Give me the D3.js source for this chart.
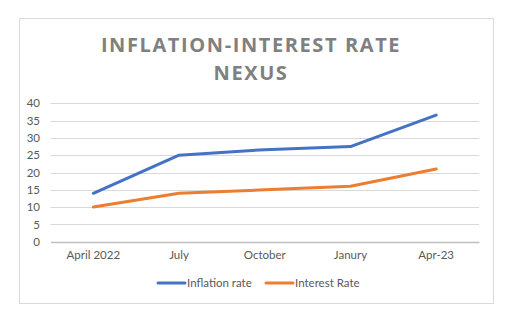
<!DOCTYPE html>
<html><head><meta charset="utf-8">
<script src="https://cdn.jsdelivr.net/npm/d3@7"></script>
<style>body{margin:0;background:#fff}svg{display:block}</style>
</head><body>
<script>
const categories = ["April 2022","July","October","Janury","Apr-23"];
const inflation = [14, 25, 26.6, 27.5, 36.6];
const interest = [10, 14, 15, 16, 21];
const yTicks = [0,5,10,15,20,25,30,35,40];
const seriesNames = ["Inflation rate","Interest Rate"];
const colors = ["#4472C4","#ED7D31"];

const W=526,H=328;
const svg=d3.select("body").append("svg").attr("width",W).attr("height",H);
const font="Lato, 'Open Sans', sans-serif";
svg.append("rect").attr("x",19.5).attr("y",18.5).attr("width",474).attr("height",285)
  .attr("fill","#fff").attr("stroke","#d9d9d9").attr("stroke-width",1);

const title=svg.append("text").attr("text-anchor","middle").attr("fill","#808080")
  .attr("font-family","'Open Sans', sans-serif").attr("font-weight","bold").attr("font-size",20)
  .attr("letter-spacing","1.6px");
title.append("tspan").attr("x",251).attr("y",52).text("INFLATION-INTEREST RATE");
title.append("tspan").attr("x",251).attr("y",80).text("NEXUS");

const x=d3.scaleBand().domain(categories).range([50.5,479]);
const y=d3.scaleLinear().domain([0,40]).range([241.7,103.3]);

const g=svg.append("g");
g.selectAll("line.grid").data(yTicks.slice(1)).join("line")
  .attr("x1",50.5).attr("x2",479).attr("y1",d=>Math.round(y(d))+0.5).attr("y2",d=>Math.round(y(d))+0.5)
  .attr("stroke","#d9d9d9").attr("stroke-width",1);

const ya=svg.append("g").attr("transform","translate(50,0)")
  .call(d3.axisLeft(y).tickValues(yTicks).tickSize(0).tickPadding(10));
ya.select(".domain").remove();
ya.selectAll("text").attr("font-family",font).attr("font-size",11.5).attr("fill","#595959");

const xa=svg.append("g").attr("transform","translate(0,242)")
  .call(d3.axisBottom(x).tickSize(0).tickPadding(9));
xa.select(".domain").attr("stroke","#bfbfbf").attr("stroke-width",1.5);
xa.selectAll("text").attr("font-family",font).attr("font-size",11.5).attr("fill","#595959");

const line=d3.line().x((d,i)=>x(categories[i])+x.bandwidth()/2).y(d=>y(d));
[inflation,interest].forEach((s,i)=>{
  svg.append("path").datum(s).attr("d",line).attr("fill","none")
    .attr("stroke",colors[i]).attr("stroke-width",3).attr("stroke-linecap","round").attr("stroke-linejoin","round");
});

const legX=[158,266];
seriesNames.forEach((n,i)=>{
  svg.append("line").attr("x1",legX[i]).attr("x2",legX[i]+27).attr("y1",283).attr("y2",283)
    .attr("stroke",colors[i]).attr("stroke-width",3).attr("stroke-linecap","round");
  svg.append("text").attr("x",legX[i]+29).attr("y",287).text(n)
    .attr("font-family",font).attr("font-size",11.5).attr("fill","#595959");
});
</script>
</body></html>
